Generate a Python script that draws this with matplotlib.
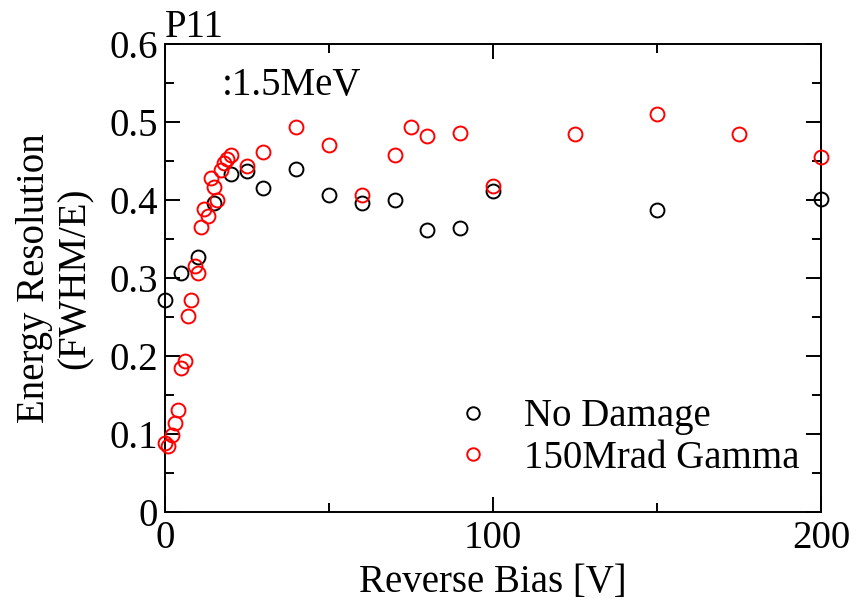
import numpy as np
import matplotlib
matplotlib.use("Agg")
import matplotlib.pyplot as plt
from matplotlib.ticker import MultipleLocator, FuncFormatter

# energy resolution vs reverse bias, P11 diode, 1.5 MeV
bias_nd = [0, 5, 10, 15, 20, 25, 30, 40, 50, 60, 70, 80, 90, 100, 150, 200]
res_nd = [0.272, 0.307, 0.327, 0.396, 0.433, 0.437, 0.415, 0.440, 0.407,
          0.396, 0.400, 0.362, 0.364, 0.411, 0.387, 0.401]

bias_gm = [0, 1, 2, 3, 4, 5, 6, 7, 8, 9, 10, 11, 12, 13, 14, 15, 16, 17,
           18, 19, 20, 25, 30, 40, 50, 60, 70, 75, 80, 90, 100, 125, 150,
           175, 200]
res_gm = [0.088, 0.085, 0.099, 0.114, 0.131, 0.185, 0.193, 0.251, 0.272,
          0.315, 0.306, 0.366, 0.389, 0.379, 0.428, 0.417, 0.400, 0.438,
          0.448, 0.452, 0.458, 0.444, 0.461, 0.494, 0.470, 0.407, 0.458,
          0.493, 0.482, 0.486, 0.418, 0.484, 0.510, 0.484, 0.455]

plt.rcParams['font.family'] = ['Liberation Serif', 'DejaVu Serif']
fs = 28

fig = plt.figure(figsize=(8.67, 6.04), dpi=100)
ax = fig.add_axes([0.1903, 0.1523, 0.7567, 0.7749])

ax.plot(bias_nd, res_nd, 'o', ms=10, mfc='none', mec='black', mew=1.4,
        clip_on=False, label='No Damage', zorder=3)
ax.plot(bias_gm, res_gm, 'o', ms=10, mfc='none', mec='red', mew=1.4,
        clip_on=False, label='150Mrad Gamma', zorder=3)

ax.set_xlim(0, 200)
ax.set_ylim(0, 0.6)
ax.xaxis.set_major_locator(MultipleLocator(100))
ax.xaxis.set_minor_locator(MultipleLocator(50))
ax.yaxis.set_major_locator(MultipleLocator(0.1))
ax.yaxis.set_minor_locator(MultipleLocator(0.05))
ax.yaxis.set_major_formatter(FuncFormatter(lambda v, p: '0' if abs(v) < 1e-9 else f'{v:.1f}'))

ax.tick_params(which='both', direction='in', top=True, right=True,
               width=1.4, labelsize=fs)
ax.tick_params(which='major', length=11)
ax.tick_params(which='minor', length=6.5)
ax.tick_params(axis='y', pad=5)
ax.tick_params(axis='x', pad=6)
for s in ax.spines.values():
    s.set_linewidth(1.4)

ax.set_xlabel('Reverse Bias [V]', fontsize=fs)
ax.xaxis.set_label_coords(0.5, -0.112)
ax.set_ylabel('Energy Resolution\n(FWHM/E)', fontsize=fs, linespacing=1.15)
ax.yaxis.set_label_coords(-0.108, 0.5)

ax.text(0.0, 1.015, 'P11', transform=ax.transAxes, fontsize=fs,
        ha='left', va='baseline')
ax.text(0.087, 0.891, ':1.5MeV', transform=ax.transAxes, fontsize=fs,
        ha='left', va='baseline')

ax.legend(loc='upper left', bbox_to_anchor=(0.44, 0.243), frameon=False,
          fontsize=fs, handlelength=1.0, handletextpad=0.8,
          labelspacing=0.12, borderpad=0, borderaxespad=0, markerscale=0.9)

fig.savefig('out.png', dpi=100)
